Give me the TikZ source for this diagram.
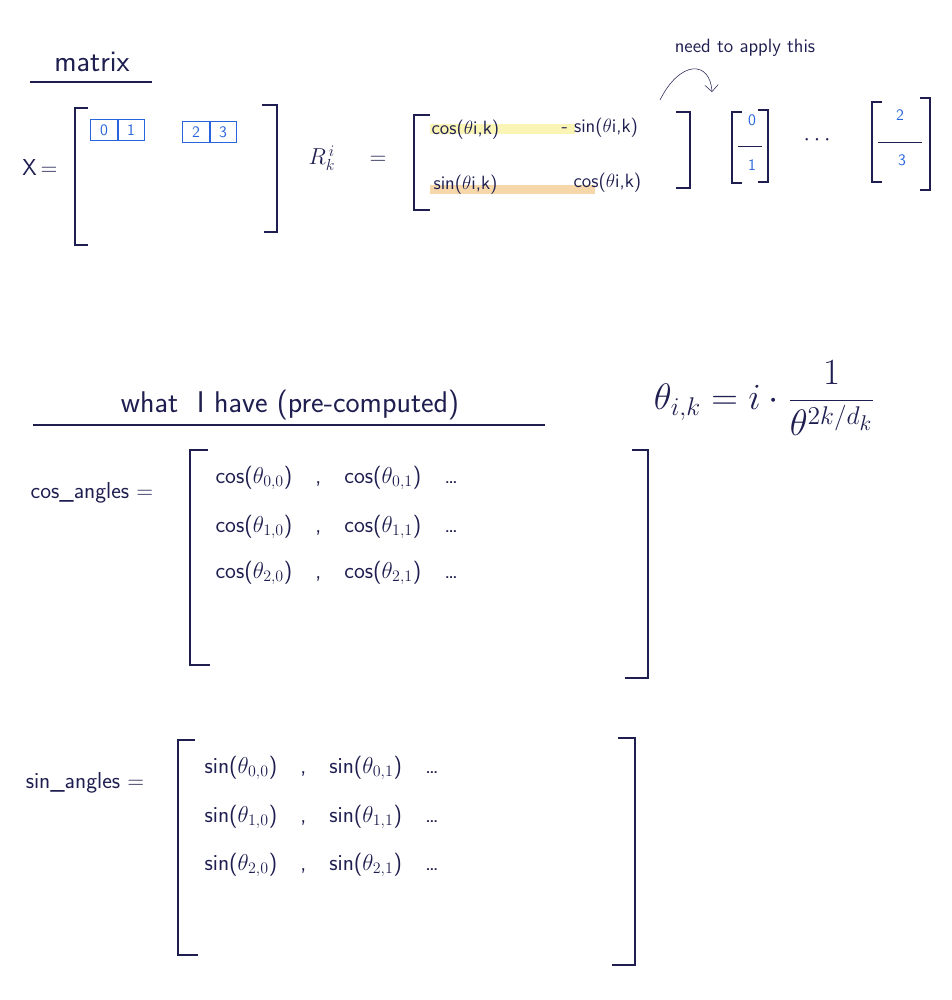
\documentclass[tikz,border=0pt]{standalone}
\usepackage{tikz}
\usetikzlibrary{arrows.meta,positioning}
\definecolor{ink}{RGB}{30,30,80}
\definecolor{pen}{RGB}{40,100,220}
\definecolor{hlyellow}{RGB}{250,245,180}
\definecolor{hlorange}{RGB}{245,215,170}
\tikzset{
  txt/.style={text=ink,font=\sffamily\LARGE,inner sep=1pt},
  row/.style={text=ink,font=\sffamily\LARGE,anchor=west,inner sep=1pt},
  entry/.style={text=ink,font=\sffamily\Large,anchor=west,inner sep=1pt},
  brk/.style={draw=ink,line width=1.2pt},
  cell/.style={draw=pen,text=pen,font=\sffamily\large,minimum width=7mm,minimum height=5.5mm,inner sep=0pt}
}
\begin{document}
\begin{tikzpicture}[x=0.75pt,y=-0.75pt]
\useasboundingbox (0,0) rectangle (952,1000);
% top part
\node[txt,scale=1.3] (mtitle) at (92,62) {matrix};
\draw[ink,line width=0.8pt] (30,82) -- (152,82);
\node[txt] (xeq) at (40,168) {X\,=};
\draw[brk] (88,108) -- (75,108) -- (75,245) -- (88,245);
\draw[brk] (262,105) -- (277,105) -- (277,232) -- (264,232);
\node[cell] (c0) at (104,130) {0};
\node[cell,right=0pt of c0] (c1) {1};
\node[cell] (c2) at (196,132) {2};
\node[cell,right=0pt of c2] (c3) {3};
\node[txt] (rik) at (322,158) {$R_k^{\,i}$};
\node[txt] (req) at (378,160) {=};
\draw[brk] (430,115) -- (414,115) -- (414,210) -- (430,210);
\draw[brk] (676,112) -- (690,112) -- (690,188) -- (676,188);
\fill[hlyellow] (430,124) rectangle (575,134);
\fill[hlorange] (430,185) rectangle (595,194);
\node[entry] (r11) at (430,130) {cos($\theta$i,k)};
\node[entry] (r12) at (560,128) {- sin($\theta$i,k)};
\node[entry] (r21) at (432,185) {sin($\theta$i,k)};
\node[entry] (r22) at (572,183) {cos($\theta$i,k)};
\node[txt,font=\sffamily\Large] (need) at (745,48) {need to apply this};
\coordinate (nfrom) at (660,100);
\draw[ink,-{Straight Barb[length=5pt]}] (nfrom) .. controls (680,60) and (710,60) .. (712,92);
\draw[brk] (742,112) -- (732,112) -- (732,183) -- (742,183);
\draw[brk] (758,110) -- (768,110) -- (768,182) -- (758,182);
\node[text=pen,font=\sffamily\large] (v0) at (752,120) {0};
\draw[ink] (738,146) -- (762,146);
\node[text=pen,font=\sffamily\large] (v1) at (752,165) {1};
\node[txt] (dots1) at (817,140) {$\cdots$};
\draw[brk] (882,102) -- (872,102) -- (872,182) -- (882,182);
\draw[brk] (920,98) -- (930,98) -- (930,190) -- (920,190);
\node[text=pen,font=\sffamily\large] (v2) at (900,115) {2};
\draw[ink] (878,142) -- (922,142);
\node[text=pen,font=\sffamily\large] (v3) at (902,160) {3};
% pre-computed part
\node[txt,scale=1.3] (htitle) at (290,405) {what\ \ I have (pre-computed)};
\draw[ink,line width=0.8pt] (33,425) -- (545,425);
\node[txt,scale=1.6] (theta) at (765,398) {$\theta_{i,k} = i \cdot \displaystyle\frac{1}{\theta^{2k/d_k}}$};
% cos angles
\node[txt] (cosl) at (92,493) {cos\_angles\ =};
\draw[brk] (208,450) -- (190,450) -- (190,665) -- (210,665);
\draw[brk] (632,450) -- (648,450) -- (648,678) -- (625,678);
\foreach \r/\y in {0/478,1/527,2/573}
  \node[row] (cr\r) at (214,\y) {cos($\theta_{\r,0}$)\quad,\quad cos($\theta_{\r,1}$)\quad\dots};
% sin angles
\node[txt] (sinl) at (85,783) {sin\_angles\ =};
\draw[brk] (195,740) -- (178,740) -- (178,955) -- (198,955);
\draw[brk] (618,738) -- (635,738) -- (635,965) -- (612,965);
\foreach \r/\y in {0/768,1/817,2/865}
  \node[row] (sr\r) at (203,\y) {sin($\theta_{\r,0}$)\quad,\quad sin($\theta_{\r,1}$)\quad\dots};
\end{tikzpicture}
\end{document}
